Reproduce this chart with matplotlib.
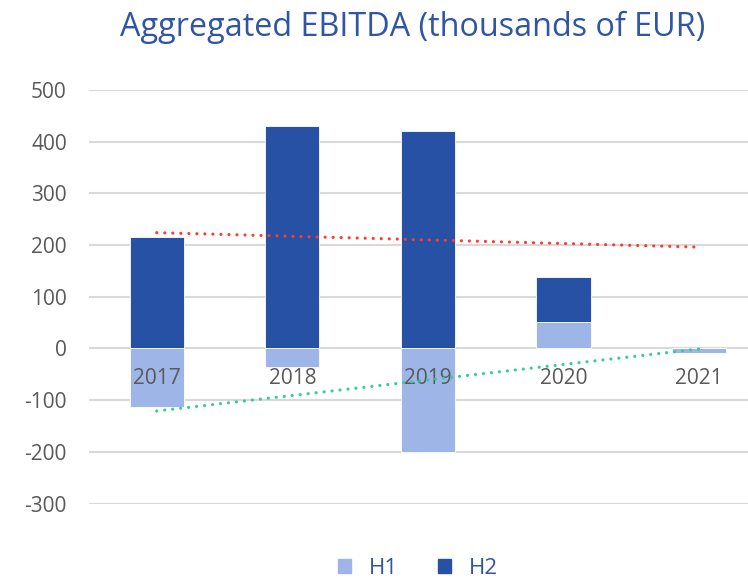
import matplotlib
matplotlib.use("Agg")
import matplotlib.pyplot as plt
from matplotlib.patches import Patch
import numpy as np

years = ["2017", "2018", "2019", "2020", "2021"]
h1 = [-114, -36, -200, 52, -8]
h2 = [216, 430, 421, 86, 0]
# trendline endpoints (first year, last year) as drawn in the source chart
trend_red = [224, 196]
trend_green = [-121, -1]

C_H1 = "#9DB6E7"
C_H2 = "#2651A5"
C_TITLE = "#2F55A4"
C_TEXT = "#595959"
C_GRID = "#D9D9D9"

plt.rcParams["font.family"] = ["Open Sans", "DejaVu Sans"]
plt.rcParams["axes.unicode_minus"] = False

W, H = 748, 579
fig = plt.figure(figsize=(W / 100, H / 100), dpi=100)
ax = fig.add_axes([89 / W, 1 - 503.5 / H, (W - 89) / W, 413.5 / H])

x = np.arange(len(years))
h1_arr = np.array(h1, dtype=float)
h2_arr = np.array(h2, dtype=float)
ax.bar(x, h1_arr, width=0.4, color=C_H1, edgecolor="white", linewidth=0.6, zorder=2)
ax.bar(x, h2_arr, width=0.4, bottom=np.maximum(h1_arr, 0), color=C_H2,
       edgecolor="white", linewidth=0.6, zorder=2)

ends = [x[0], x[-1]]
ax.plot(ends, trend_red, color="#FF3B2F", lw=2.3, linestyle=(0, (0.01, 2.5)),
        dash_capstyle="round", zorder=4)
ax.plot(ends, trend_green, color="#35CC96", lw=2.3, linestyle=(0, (0.01, 2.5)),
        dash_capstyle="round", zorder=4)

# category labels sit just under the zero line, Excel-style
for xi, lab in zip(x, years):
    ax.text(xi, -58, lab, ha="center", va="center", fontsize=15, color=C_TEXT, zorder=3)

ax.set_xlim(-0.5, (W - 157) / 135.5)
ax.set_ylim(-300, 500)
ax.set_yticks(np.arange(-300, 501, 100))
ax.set_xticks([])
ax.tick_params(axis="y", length=0, pad=16, labelsize=15, labelcolor=C_TEXT)
ax.grid(axis="y", color=C_GRID, linewidth=1.5, zorder=0)
ax.set_axisbelow(True)
for s in ax.spines.values():
    s.set_visible(False)

fig.text(413 / W, 1 - 27 / H, "Aggregated EBITDA (thousands of EUR)", ha="center", va="center",
         fontsize=23.3, color=C_TITLE)

handles = [Patch(color=C_H1, label="H1"), Patch(color=C_H2, label="H2")]
fig.legend(handles=handles, loc="center", bbox_to_anchor=(418 / W, 1 - 568 / H), ncol=2,
           frameon=False, fontsize=16, handlelength=0.6, handleheight=0.6,
           columnspacing=1.8, handletextpad=0.8, labelcolor=C_TITLE)

fig.savefig("out.png", dpi=100)
